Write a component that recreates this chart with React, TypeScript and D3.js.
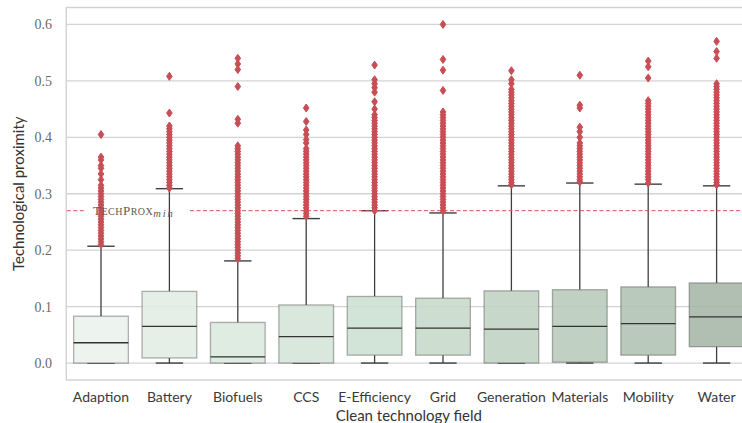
import * as d3 from 'd3';

// Boxplot summary per clean technology field
const categories = ["Adaption", "Battery", "Biofuels", "CCS", "E-Efficiency", "Grid", "Generation", "Materials", "Mobility", "Water"];
const q1 = [0, 0.009, 0, 0, 0.014, 0.014, 0, 0.0015, 0.014, 0.029];
const medians = [0.036, 0.065, 0.011, 0.047, 0.062, 0.062, 0.060, 0.065, 0.070, 0.082];
const q3 = [0.083, 0.127, 0.072, 0.103, 0.118, 0.115, 0.128, 0.130, 0.135, 0.142];
const whiskLow = [0, 0, 0, 0, 0, 0, 0, 0, 0, 0];
const whiskHigh = [0.207, 0.309, 0.181, 0.256, 0.270, 0.266, 0.314, 0.319, 0.317, 0.314];
const boxColors = ["#ebf3ee", "#e1ede4", "#dbe9de", "#d4e4d8", "#cce0d1", "#c6dacb", "#bfd3c3", "#b7cabb", "#afc2b2", "#a5b6a7"];

// outliers (dense runs listed at ~0.005 steps)
const outliers: number[][] = [
  [0.21, 0.215, 0.22, 0.225, 0.23, 0.235, 0.24, 0.245, 0.25, 0.255, 0.26, 0.265, 0.27, 0.275, 0.28, 0.285, 0.29, 0.295, 0.30, 0.305, 0.31, 0.315, 0.325, 0.335, 0.345, 0.35, 0.36, 0.365, 0.405],
  [0.31, 0.315, 0.32, 0.325, 0.33, 0.335, 0.34, 0.345, 0.35, 0.355, 0.36, 0.365, 0.37, 0.375, 0.38, 0.385, 0.39, 0.395, 0.40, 0.405, 0.41, 0.415, 0.42, 0.443, 0.508],
  [0.185, 0.19, 0.195, 0.20, 0.205, 0.21, 0.215, 0.22, 0.225, 0.23, 0.235, 0.24, 0.245, 0.25, 0.255, 0.26, 0.265, 0.27, 0.275, 0.28, 0.285, 0.29, 0.295, 0.30, 0.305, 0.31, 0.315, 0.32, 0.325, 0.33, 0.335, 0.34, 0.345, 0.35, 0.355, 0.36, 0.365, 0.37, 0.375, 0.38, 0.385, 0.425, 0.432, 0.49, 0.52, 0.53, 0.54],
  [0.26, 0.265, 0.27, 0.275, 0.28, 0.285, 0.29, 0.295, 0.30, 0.305, 0.31, 0.315, 0.32, 0.325, 0.33, 0.335, 0.34, 0.345, 0.35, 0.355, 0.36, 0.365, 0.37, 0.375, 0.38, 0.39, 0.396, 0.405, 0.413, 0.428, 0.452],
  [0.27, 0.275, 0.28, 0.285, 0.29, 0.295, 0.30, 0.305, 0.31, 0.315, 0.32, 0.325, 0.33, 0.335, 0.34, 0.345, 0.35, 0.355, 0.36, 0.365, 0.37, 0.375, 0.38, 0.385, 0.39, 0.395, 0.40, 0.405, 0.41, 0.415, 0.42, 0.425, 0.43, 0.435, 0.44, 0.45, 0.463, 0.48, 0.488, 0.495, 0.502, 0.528],
  [0.27, 0.275, 0.28, 0.285, 0.29, 0.295, 0.30, 0.305, 0.31, 0.315, 0.32, 0.325, 0.33, 0.335, 0.34, 0.345, 0.35, 0.355, 0.36, 0.365, 0.37, 0.375, 0.38, 0.385, 0.39, 0.395, 0.40, 0.405, 0.41, 0.415, 0.42, 0.425, 0.43, 0.435, 0.44, 0.445, 0.483, 0.519, 0.538, 0.60],
  [0.316, 0.32, 0.325, 0.33, 0.335, 0.34, 0.345, 0.35, 0.355, 0.36, 0.365, 0.37, 0.375, 0.38, 0.385, 0.39, 0.395, 0.40, 0.405, 0.41, 0.415, 0.42, 0.425, 0.43, 0.435, 0.44, 0.445, 0.45, 0.455, 0.46, 0.465, 0.47, 0.475, 0.48, 0.485, 0.495, 0.502, 0.518],
  [0.321, 0.325, 0.33, 0.335, 0.34, 0.345, 0.35, 0.355, 0.36, 0.365, 0.37, 0.375, 0.38, 0.385, 0.39, 0.40, 0.41, 0.418, 0.452, 0.457, 0.51],
  [0.319, 0.325, 0.33, 0.335, 0.34, 0.345, 0.35, 0.355, 0.36, 0.365, 0.37, 0.375, 0.38, 0.385, 0.39, 0.395, 0.40, 0.405, 0.41, 0.415, 0.42, 0.425, 0.43, 0.435, 0.44, 0.445, 0.45, 0.455, 0.46, 0.465, 0.505, 0.525, 0.535],
  [0.316, 0.32, 0.325, 0.33, 0.335, 0.34, 0.345, 0.35, 0.355, 0.36, 0.365, 0.37, 0.375, 0.38, 0.385, 0.39, 0.395, 0.40, 0.405, 0.41, 0.415, 0.42, 0.425, 0.43, 0.435, 0.44, 0.445, 0.45, 0.455, 0.46, 0.465, 0.47, 0.475, 0.48, 0.485, 0.49, 0.495, 0.54, 0.552, 0.57],
];

const yTicks = [0, 0.1, 0.2, 0.3, 0.4, 0.5, 0.6];
const techProxMin = 0.27;

const W = 742;
const H = 423;
const left = 66.8;
const right = 750.8;
const top = 7.5;
const bottom = 380;

export default function App() {
  const x = d3.scaleBand<string>().domain(categories).range([left, right]).paddingInner(0).paddingOuter(0);
  const y = d3.scaleLinear().domain([-0.03, 0.63]).range([bottom, top]);
  const bw = x.bandwidth() * 0.8;
  const capW = bw / 2;
  const diamond = 'M0,-4L2.8,0L0,4L-2.8,0Z';
  const yLine = y(techProxMin);

  return (
    <div style={{ position: 'absolute', left: 0, top: 0 }}>
      <svg width={W} height={H} style={{ display: 'block' }}>
        <rect x={0} y={0} width={W} height={H} fill="#ffffff" />
        {/* grid */}
        {yTicks.map(t => (
          <line key={t} x1={left} x2={right} y1={y(t)} y2={y(t)} stroke="#d3d3d3" strokeWidth={1.3} />
        ))}
        {/* frame */}
        <rect x={left - 0.5} y={top} width={right - left + 1} height={bottom - top} fill="none" stroke="#d2d2d2" strokeWidth={1.4} />
        {/* y tick labels */}
        {yTicks.map(t => (
          <text key={'l' + t} x={52} y={y(t)} dy="0.35em" textAnchor="end"
            fontFamily="'Liberation Serif', serif" fontSize={14} fill="#6a6a6a">{d3.format('.1f')(t)}</text>
        ))}
        {/* boxes */}
        {categories.map((c, i) => {
          const cx = (x(c) as number) + x.bandwidth() / 2;
          return (
            <g key={c}>
              <line x1={cx} x2={cx} y1={y(q3[i])} y2={y(whiskHigh[i])} stroke="#3f3f3f" strokeWidth={1.3} />
              <line x1={cx} x2={cx} y1={y(q1[i])} y2={y(whiskLow[i])} stroke="#3f3f3f" strokeWidth={1.3} />
              <line x1={cx - capW / 2} x2={cx + capW / 2} y1={y(whiskHigh[i])} y2={y(whiskHigh[i])} stroke="#3f3f3f" strokeWidth={1.4} />
              <line x1={cx - capW / 2} x2={cx + capW / 2} y1={y(whiskLow[i])} y2={y(whiskLow[i])} stroke="#3f3f3f" strokeWidth={1.4} />
              <rect x={cx - bw / 2} y={y(q3[i])} width={bw} height={y(q1[i]) - y(q3[i])}
                fill={boxColors[i]} fillOpacity={0.88} stroke="#3f3f3f" strokeOpacity={0.4} strokeWidth={1.3} />
              <line x1={cx - bw / 2} x2={cx + bw / 2} y1={y(medians[i])} y2={y(medians[i])} stroke="#333333" strokeWidth={1.3} />
              {outliers[i].map((v, j) => (
                <path key={j} d={diamond} transform={`translate(${cx},${y(v)})`} fill="#c84e55" stroke="#c84e55" strokeWidth={1} strokeLinejoin="round" />
              ))}
            </g>
          );
        })}
        {/* threshold */}
        <line x1={left} x2={86} y1={yLine} y2={yLine} stroke="#d0555a" strokeWidth={1} strokeDasharray="4,2.5" />
        <line x1={190} x2={right} y1={yLine} y2={yLine} stroke="#d0555a" strokeWidth={1} strokeDasharray="4,2.5" />
        <text x={93} y={yLine + 4} fontFamily="'Liberation Serif', serif" fill="#5a5a5a" letterSpacing={0.5}>
          <tspan fontSize={13}>T</tspan><tspan fontSize={10}>ECH</tspan><tspan fontSize={13}>P</tspan><tspan fontSize={10}>ROX</tspan><tspan fontSize={10.5} fontStyle="italic" dy={2} letterSpacing={1.8}>min</tspan>
        </text>
        {/* x tick labels */}
        {categories.map(c => (
          <text key={'x' + c} x={(x(c) as number) + x.bandwidth() / 2} y={402} textAnchor="middle"
            fontFamily="Lato, sans-serif" fontSize={14} fill="#3a3a3a">{c}</text>
        ))}
        {/* axis titles */}
        <text x={(left + right) / 2} y={421} textAnchor="middle" fontFamily="Lato, sans-serif" fontSize={15} fill="#333333">Clean technology field</text>
        <text transform={`translate(24,${(top + bottom) / 2}) rotate(-90)`} textAnchor="middle" fontFamily="Lato, sans-serif" fontSize={15} fill="#333333">Technological proximity</text>
      </svg>
    </div>
  );
}
